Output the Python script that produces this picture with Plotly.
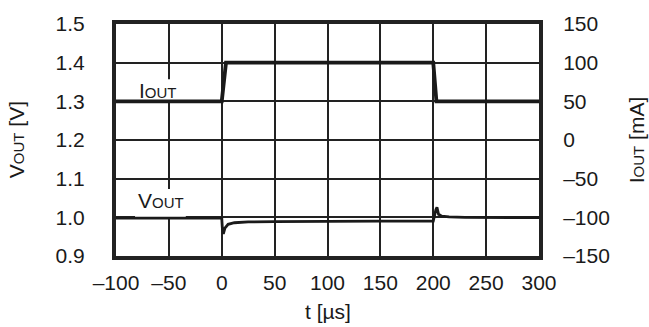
import plotly.graph_objects as go

# ---- data ----
t_vout = [-100, 0, 0.5, 1.5, 3, 6, 12, 25, 50, 100, 150, 200, 201, 202.5, 203.5, 205, 208, 215, 230, 260, 300]
vout = [0.998, 0.998, 0.975, 0.957, 0.972, 0.982, 0.986, 0.988, 0.989, 0.990, 0.990, 0.990, 1.005, 1.020, 1.026, 1.008, 1.003, 1.001, 1.000, 0.999, 0.999]

t_iout = [-100, 0, 4, 200, 203, 300]
iout = [50, 50, 100, 100, 50, 50]

x_ticks = [-100, -50, 0, 50, 100, 150, 200, 250, 300]
x_ticktext = ["\u2013100", "\u201350", "0", "50", "100", "150", "200", "250", "300"]
y_ticks = [0.9, 1.0, 1.1, 1.2, 1.3, 1.4, 1.5]
y_ticktext = ["0.9", "1.0", "1.1", "1.2", "1.3", "1.4", "1.5"]
y2_ticks = [-150, -100, -50, 0, 50, 100, 150]
y2_ticktext = ["\u2013150", "\u2013100", "\u201350", "0", "50", "100", "150"]

FONT = "Liberation Sans, Arial, sans-serif"
FS = 21
SUB = "<span style='font-size:15px'>OUT</span>"

fig = go.Figure()
fig.add_trace(go.Scatter(x=t_vout, y=vout, mode="lines", line=dict(color="#1a1a1a", width=2.8),
                         yaxis="y", showlegend=False, hoverinfo="skip"))
fig.add_trace(go.Scatter(x=t_iout, y=iout, mode="lines", line=dict(color="#1a1a1a", width=3.8),
                         yaxis="y2", showlegend=False, hoverinfo="skip"))

axis_common = dict(showline=True, linecolor="#222222", linewidth=4, zeroline=False,
                   ticks="outside", tickcolor="rgba(0,0,0,0)",
                   tickfont=dict(family=FONT, size=FS, color="#1a1a1a"))

fig.update_layout(
    width=649, height=327,
    margin=dict(l=116, r=110, t=24, b=71, pad=0),
    paper_bgcolor="white", plot_bgcolor="white",
    font=dict(family=FONT, color="#1a1a1a"),
    xaxis=dict(range=[-100, 300], tickvals=x_ticks, ticktext=x_ticktext, mirror=True,
               showgrid=True, gridcolor="#222222", gridwidth=1.8, ticklen=5, **axis_common),
    yaxis=dict(range=[0.9, 1.5], tickvals=y_ticks, ticktext=y_ticktext, mirror=True,
               showgrid=True, gridcolor="#222222", gridwidth=1.8, ticklen=23, **axis_common),
    yaxis2=dict(range=[-150, 150], tickvals=y2_ticks, ticktext=y2_ticktext, overlaying="y",
                side="right", showgrid=False, ticklen=16, **axis_common),
)

# white label backgrounds that hide the grid but sit below the traces
for y0, y1 in [(1.30, 1.357), (1.0, 1.073)]:
    fig.add_shape(type="rect", xref="x", yref="y", x0=-82, x1=-34, y0=y0, y1=y1,
                  fillcolor="white", line=dict(width=0), layer="between")

anns = [
    dict(text="I" + SUB, x=-80.6, y=1.327, xref="x", yref="y", xanchor="left", yanchor="middle",
         showarrow=False, font=dict(size=FS)),
    dict(text="V" + SUB, x=-81.5, y=1.044, xref="x", yref="y", xanchor="left", yanchor="middle",
         showarrow=False, font=dict(size=FS)),
    dict(text="V" + SUB + " [V]", x=-0.236, y=0.5, xref="paper", yref="paper", textangle=-90,
         xanchor="center", yanchor="middle", showarrow=False, font=dict(size=FS)),
    dict(text="I" + SUB + " [mA]", x=1.230, y=0.5, xref="paper", yref="paper", textangle=-90,
         xanchor="center", yanchor="middle", showarrow=False, font=dict(size=FS)),
    dict(text="t [µs]", x=0.5, y=-0.239, xref="paper", yref="paper",
         xanchor="center", yanchor="middle", showarrow=False, font=dict(size=FS)),
]
fig.update_layout(annotations=anns)

fig.write_html("out.html", config={"displayModeBar": False},
               post_script="document.body.style.margin='0';")
